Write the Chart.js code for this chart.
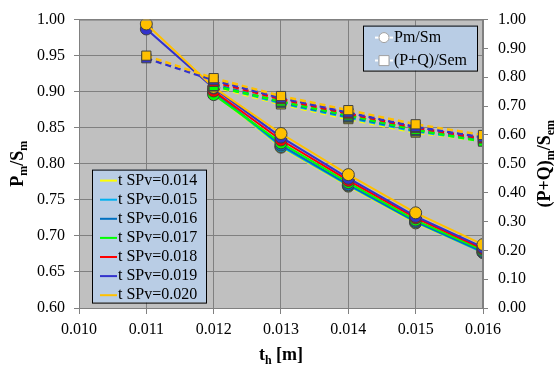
<!DOCTYPE html>
<html>
<head>
<meta charset="utf-8">
<script src="https://cdn.jsdelivr.net/npm/chart.js@4/dist/chart.umd.min.js"></script>
<style>
html,body{margin:0;padding:0;background:#fff;}
#wrap{width:558px;height:369px;position:relative;}
</style>
</head>
<body>
<div id="wrap"><canvas id="c" width="558" height="369"></canvas></div>
<script>
// ---- data ----
const xValues = [0.011, 0.012, 0.013, 0.014, 0.015, 0.016];
const seriesLabels = ['t SPv=0.014','t SPv=0.015','t SPv=0.016','t SPv=0.017','t SPv=0.018','t SPv=0.019','t SPv=0.020'];
const seriesColors = ['#FFFF00','#00B0F0','#0070C0','#00FF00','#FF0000','#3333CC','#FFC000'];
// Pm/Sm (left axis)
const pm014 = [null, 0.898, 0.823, 0.769, 0.718, 0.677];
const pm015 = [null, 0.899, 0.824, 0.770, 0.719, 0.677];
const pm016 = [null, 0.900, 0.826, 0.771, 0.720, 0.678];
const pm017 = [null, 0.896, 0.829, 0.774, 0.722, 0.680];
const pm018 = [null, 0.901, 0.833, 0.777, 0.725, 0.682];
const pm019 = [0.987, 0.905, 0.837, 0.780, 0.727, 0.684];
const pm020 = [0.994, 0.906, 0.842, 0.785, 0.732, 0.688];
// (P+Q)/Sem (right axis)
const pq014 = [null, 0.768, 0.706, 0.655, 0.608, 0.580];
const pq015 = [null, 0.772, 0.710, 0.660, 0.612, 0.582];
const pq016 = [null, 0.776, 0.713, 0.663, 0.615, 0.585];
const pq017 = [null, 0.770, 0.716, 0.668, 0.618, 0.577];
const pq018 = [null, 0.784, 0.724, 0.674, 0.625, 0.588];
const pq019 = [0.866, 0.790, 0.728, 0.678, 0.628, 0.592];
const pq020 = [0.875, 0.797, 0.735, 0.686, 0.637, 0.600];
// ticks
const xTicks = [0.010, 0.011, 0.012, 0.013, 0.014, 0.015, 0.016];
const leftTicks = [0.60, 0.65, 0.70, 0.75, 0.80, 0.85, 0.90, 0.95, 1.00];
const rightTicks = [0.0, 0.1, 0.2, 0.3, 0.4, 0.5, 0.6, 0.7, 0.8, 0.9, 1.0];
const legend2Labels = ['Pm/Sm', '(P+Q)/Sem'];

const pmSeries = [pm014, pm015, pm016, pm017, pm018, pm019, pm020];
const pqSeries = [pq014, pq015, pq016, pq017, pq018, pq019, pq020];

function toPoints(arr){
  const pts = [];
  arr.forEach((v,i)=>{ if (v !== null) pts.push({x:xValues[i], y:v}); });
  return pts;
}

const datasets = [];
seriesLabels.forEach((lab, i) => {
  const order = seriesLabels.length - 1 - i;
  datasets.push({
    label: lab,
    data: toPoints(pmSeries[i]),
    yAxisID: 'y',
    borderColor: seriesColors[i],
    backgroundColor: seriesColors[i],
    borderWidth: 2,
    pointStyle: 'circle',
    pointRadius: 6,
    pointBorderColor: '#404040',
    pointBorderWidth: 1,
    pointBackgroundColor: seriesColors[i],
    tension: 0,
    order: order + 7
  });
  datasets.push({
    label: lab + ' PQ',
    data: toPoints(pqSeries[i]),
    yAxisID: 'y1',
    borderColor: seriesColors[i],
    backgroundColor: seriesColors[i],
    borderWidth: 2.5,
    borderDash: [6, 4],
    pointStyle: 'rect',
    pointRadius: 6.5,
    pointBorderColor: '#404040',
    pointBorderWidth: 1,
    pointBackgroundColor: seriesColors[i],
    tension: 0,
    order: order
  });
});

const SERIF = "'Liberation Serif', 'Times New Roman', serif";

function drawSubText(ctx, parts, x, y, align){
  const big = "bold 18px " + SERIF, small = "bold 12px " + SERIF;
  let total = 0;
  parts.forEach(p => { ctx.font = p[1] ? small : big; total += ctx.measureText(p[0]).width; });
  let cx = align === 'center' ? x - total/2 : x;
  ctx.textBaseline = 'alphabetic';
  ctx.textAlign = 'left';
  parts.forEach(p => {
    ctx.font = p[1] ? small : big;
    ctx.fillText(p[0], cx, y + (p[1] ? 4 : 0));
    cx += ctx.measureText(p[0]).width;
  });
}

const customPlugin = {
  id: 'custom',
  beforeDraw(chart){
    const {ctx, chartArea:a} = chart;
    ctx.save();
    ctx.fillStyle = '#C0C0C0';
    ctx.fillRect(a.left, a.top, a.right - a.left, a.bottom - a.top);
    ctx.restore();
  },
  afterDraw(chart){
    const {ctx, chartArea:a} = chart;
    ctx.save();
    ctx.strokeStyle = '#808080';
    ctx.lineWidth = 1;
    ctx.strokeRect(a.left + 0.5, a.top + 0.5, a.right - a.left - 1, a.bottom - a.top);
    ctx.fillStyle = '#000';
    ctx.save();
    ctx.translate(23, (a.top + a.bottom)/2);
    ctx.rotate(-Math.PI/2);
    drawSubText(ctx, [['P',0],['m',1],['/S',0],['m',1]], 0, 0, 'center');
    ctx.restore();
    ctx.save();
    ctx.translate(550, (a.top + a.bottom)/2);
    ctx.rotate(-Math.PI/2);
    drawSubText(ctx, [['(P+Q)',0],['m',1],['/S',0],['em',1]], 0, 0, 'center');
    ctx.restore();
    drawSubText(ctx, [['t',0],['h',1],[' [m]',0]], (a.left + a.right)/2, 360, 'center');

    // legend 1 (series)
    const L1 = {x: a.left + 13, y: a.top + 150, w: 114, h: 133};
    ctx.fillStyle = '#B9CDE5';
    ctx.fillRect(L1.x, L1.y, L1.w, L1.h);
    ctx.strokeStyle = '#000';
    ctx.lineWidth = 1;
    ctx.strokeRect(L1.x + 0.5, L1.y + 0.5, L1.w, L1.h);
    ctx.font = "16px " + SERIF;
    ctx.textBaseline = 'middle';
    ctx.textAlign = 'left';
    seriesLabels.forEach((lab, i) => {
      const yy = L1.y + 11 + i * 19.1;
      ctx.strokeStyle = seriesColors[i];
      ctx.lineWidth = 2;
      ctx.beginPath();
      ctx.moveTo(L1.x + 8, yy); ctx.lineTo(L1.x + 25, yy);
      ctx.stroke();
      ctx.fillStyle = '#000';
      ctx.fillText(lab, L1.x + 26, yy);
    });

    // legend 2 (marker types)
    const L2 = {x: a.left + 284, y: a.top + 6, w: 114, h: 45};
    ctx.fillStyle = '#B9CDE5';
    ctx.fillRect(L2.x, L2.y, L2.w, L2.h);
    ctx.strokeStyle = '#000';
    ctx.lineWidth = 1;
    ctx.strokeRect(L2.x + 0.5, L2.y + 0.5, L2.w, L2.h);
    legend2Labels.forEach((lab, i) => {
      const yy = L2.y + 12 + i * 23;
      const mx = L2.x + 21;
      ctx.strokeStyle = '#FFFFFF';
      ctx.lineWidth = 2;
      if (i === 1) ctx.setLineDash([3, 2]);
      ctx.beginPath();
      ctx.moveTo(L2.x + 12, yy); ctx.lineTo(L2.x + 30, yy);
      ctx.stroke();
      ctx.setLineDash([]);
      ctx.fillStyle = '#FFFFFF';
      ctx.strokeStyle = '#A0A0A0';
      ctx.lineWidth = 1;
      ctx.beginPath();
      if (i === 0) { ctx.arc(mx, yy, 5, 0, Math.PI*2); }
      else { ctx.rect(mx - 5, yy - 5, 10, 10); }
      ctx.fill(); ctx.stroke();
      ctx.fillStyle = '#000';
      ctx.font = "16px " + SERIF;
      ctx.textBaseline = 'middle';
      ctx.fillText(lab, L2.x + 31, yy);
    });
    ctx.restore();
  }
};

new Chart(document.getElementById('c'), {
  type: 'line',
  data: { datasets },
  options: {
    responsive: false,
    animation: false,
    events: [],
    layout: { padding: { top: 17, left: 0, right: 0, bottom: 0 } },
    plugins: { legend: { display: false }, tooltip: { enabled: false } },
    scales: {
      x: {
        type: 'linear',
        min: 0.010, max: 0.016,
        afterBuildTicks: s => { s.ticks = xTicks.map(v => ({value: v})); },
        afterFit: s => { s.height = 61; },
        ticks: { font: {family: SERIF, size: 16}, color: '#000', padding: 6, maxRotation: 0,
                 callback: v => Number(v).toFixed(3) },
        grid: { color: '#808080', lineWidth: 1, tickLength: 6, drawTicks: true },
        border: { color: '#808080' }
      },
      y: {
        position: 'left',
        min: 0.60, max: 1.00,
        afterBuildTicks: s => { s.ticks = leftTicks.map(v => ({value: v})); },
        afterFit: s => { s.width = 79; },
        ticks: { font: {family: SERIF, size: 16}, color: '#000', padding: 9,
                 callback: v => Number(v).toFixed(2) },
        grid: { color: '#808080', lineWidth: 1, tickLength: 5, drawTicks: true },
        border: { color: '#808080' }
      },
      y1: {
        position: 'right',
        min: 0, max: 1,
        afterBuildTicks: s => { s.ticks = rightTicks.map(v => ({value: v})); },
        afterFit: s => { s.width = 75; },
        ticks: { font: {family: SERIF, size: 16}, color: '#000', padding: 10,
                 callback: v => Number(v).toFixed(2) },
        grid: { drawOnChartArea: false, color: '#808080', tickLength: 5, drawTicks: true },
        border: { color: '#808080' }
      }
    }
  },
  plugins: [customPlugin]
});
</script>
</body>
</html>
